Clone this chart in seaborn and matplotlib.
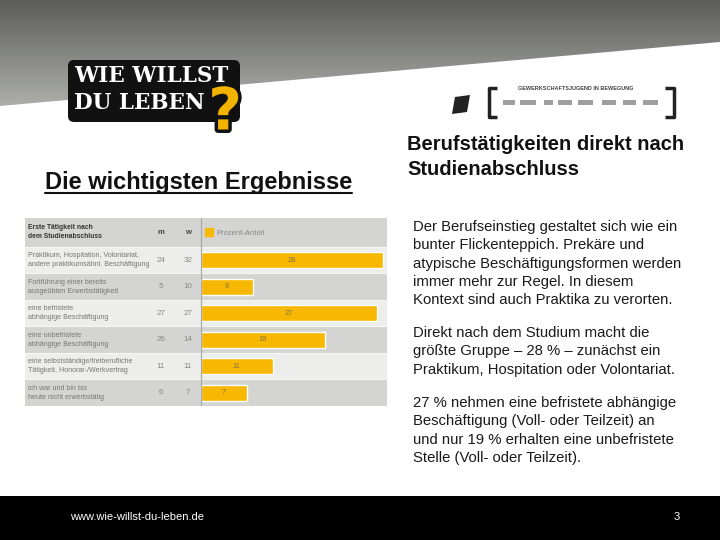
import numpy as np
import matplotlib
matplotlib.use("Agg")
import matplotlib.pyplot as plt
import seaborn as sns
from matplotlib.patches import Rectangle, Polygon, FancyBboxPatch, Patch
import matplotlib.patheffects as pe

# data
categories = [
    "Praktikum, Hospitation, Volontariat,\nandere praktikumsähnl. Beschäftigung",
    "Fortführung einer bereits\nausgeübten Erwerbstätigkeit",
    "eine befristete\nabhängige Beschäftigung",
    "eine unbefristete\nabhängige Beschäftigung",
    "eine selbstständige/freiberufliche\nTätigkeit, Honorar-/Werkvertrag",
    "ich war und bin bis\nheute nicht erwerbstätig",
]
men = [24, 5, 27, 26, 11, 6]
women = [32, 10, 27, 14, 11, 7]
percent = [28, 8, 27, 19, 11, 7]

para1 = ["Der Berufseinstieg gestaltet sich wie ein",
         "bunter Flickenteppich. Prekäre und",
         "atypische Beschäftigungsformen werden",
         "immer mehr zur Regel. In diesem",
         "Kontext sind auch Praktika zu verorten."]
para2 = ["Direkt nach dem Studium macht die",
         "größte Gruppe – 28 % – zunächst ein",
         "Praktikum, Hospitation oder Volontariat."]
para3 = ["27 % nehmen eine befristete abhängige",
         "Beschäftigung (Voll- oder Teilzeit) an",
         "und nur 19 % erhalten eine unbefristete",
         "Stelle (Voll- oder Teilzeit)."]

sns.set_style("white")
plt.rcParams['font.family'] = ['Liberation Sans', 'DejaVu Sans']

W, H = 720, 540
fig = plt.figure(figsize=(7.2, 5.4), dpi=100)

def px(x, y):
    return x / W, 1 - y / H

# background layer in pixel coords
bg = fig.add_axes([0, 0, 1, 1])
bg.axis('off')

# grey gradient band with slanted lower edge
top = np.array([0.36, 0.365, 0.35])
bot = np.array([0.68, 0.685, 0.67])
t = np.linspace(0, 1, 200)[:, None, None]
grad = top + (bot - top) * t
im = bg.imshow(grad, extent=[0, W, 106, 0], aspect='auto', zorder=0)
clip = Polygon([(0, 0), (W, 0), (W, 42), (0, 106)], closed=True,
               transform=bg.transData, facecolor='none', edgecolor='none')
bg.add_patch(clip)
im.set_clip_path(clip)
bg.set_xlim(0, W)
bg.set_ylim(H, 0)

# logo "WIE WILLST DU LEBEN?"
bg.add_patch(FancyBboxPatch((70, 62), 168, 58, boxstyle="round,pad=2,rounding_size=6",
                            facecolor='#111111', edgecolor='none', zorder=2))
bg.text(74, 76, "WIE WILLST", color='white', fontsize=15.5, fontweight='heavy',
        family='DejaVu Serif', ha='left', va='center', zorder=3)
bg.text(74, 103, "DU LEBEN", color='white', fontsize=15.5, fontweight='heavy',
        family='DejaVu Serif', ha='left', va='center', zorder=3)
bg.text(225, 113, "?", color='#F2B200', fontsize=42, fontweight='bold',
        family='DejaVu Sans', ha='center', va='center', zorder=4,
        path_effects=[pe.withStroke(linewidth=5, foreground='#111111')])

# partner logos (right top)
bg.add_patch(Polygon([(455, 97), (470, 95), (467, 112), (452, 114)], closed=True,
                     facecolor='#222222', edgecolor='none'))
bg.plot([497, 489, 489, 497], [88, 88, 117, 117], color='#222222', lw=2.5, solid_capstyle='butt')
bg.plot([665, 674, 674, 665], [88, 88, 117, 117], color='#222222', lw=2.5, solid_capstyle='butt')
bg.text(576, 89, "GEWERKSCHAFTSJUGEND IN BEWEGUNG", fontsize=4, color='#444444',
        ha='center', va='center', fontweight='bold')
for x0, w0 in [(503, 12), (520, 16), (544, 9), (558, 14), (578, 15), (602, 14), (623, 13), (643, 15)]:
    bg.add_patch(Rectangle((x0, 100), w0, 5, facecolor='#777777', edgecolor='none', alpha=0.7))

# headings
t1 = fig.text(*px(45, 188.5), "Die wichtigsten Ergebnisse", fontsize=17, fontweight='bold',
              color='#111111', ha='left', va='baseline')
fig.text(*px(407, 150), "Berufstätigkeiten direkt nach", fontsize=14.5, fontweight='bold',
         color='#111111', ha='left', va='baseline')
fig.text(*px(407, 175), "Studienabschluss", fontsize=14.5, fontweight='bold',
         color='#111111', ha='left', va='baseline')

# body text
for lines, y0 in [(para1, 227), (para2, 333), (para3, 403)]:
    for i, line in enumerate(lines):
        fig.text(*px(413, y0 + i * 18.3), line, fontsize=10.7, color='#1a1a1a',
                 ha='left', va='center')

# footer
bg.add_patch(Rectangle((0, 496), W, 44, facecolor='black', edgecolor='none', zorder=1))
bg.text(70, 517, "www.wie-willst-du-leben.de", color='white', fontsize=8, ha='left', va='center', zorder=2)
bg.text(677, 517, "3", color='white', fontsize=8, ha='center', va='center', zorder=2)

# table background
ylim = (5.5, -1.594)
tab = fig.add_axes([25 / W, 1 - 406 / H, 362 / W, 188 / H])
tab.set_xlim(25, 387)
tab.set_ylim(*ylim)
tab.axis('off')
tab.axhspan(-1.594, -0.5, color='#d4d4d2', lw=0)
for i in range(len(categories)):
    tab.axhspan(i - 0.5, i + 0.5, color='#ededeb' if i % 2 == 0 else '#d4d4d2', lw=0)
    tab.axhline(i - 0.5, color='#f6f6f4', lw=0.8)
tab.text(28, -1.05, "Erste Tätigkeit nach\ndem Studienabschluss",
         fontsize=4.9, fontweight='bold', color='#333333', ha='left', va='center', linespacing=1.4)
tab.text(161, -1.05, "m", fontsize=5.5, fontweight='bold', color='#444444', ha='center', va='center')
tab.text(188, -1.05, "w", fontsize=5.5, fontweight='bold', color='#444444', ha='center', va='center')
for i, cat in enumerate(categories):
    tab.text(28, i, cat, fontsize=5.1, color='#777777', ha='left', va='center', linespacing=1.4)
    tab.text(161, i, str(men[i]), fontsize=5.8, color='#888888', ha='center', va='center')
    tab.text(188, i, str(women[i]), fontsize=5.8, color='#888888', ha='center', va='center')

# bar chart
ax = fig.add_axes([197 / W, 1 - 406 / H, 190 / W, 188 / H])
ax.patch.set_alpha(0)
sns.barplot(x=percent, y=list(range(len(percent))), orient='h', color='#F8B700',
            saturation=1, width=0.6, ax=ax)
ax.set_xlim(-4 / 6.5, 186 / 6.5)
ax.set_ylim(*ylim)
ax.axvline(0, color='#a9a9a9', lw=0.9)
for c in ax.containers:
    ax.bar_label(c, labels=[str(v) for v in percent], label_type='center',
                 fontsize=5.5, color='#8a7440')
ax.set_xlabel('')
ax.set_ylabel('')
ax.set_xticks([])
ax.set_yticks([])
sns.despine(ax=ax, left=True, bottom=True)
ax.legend(handles=[Patch(color='#F8B700', label='Prozent-Anteil')], loc='center left',
          bbox_to_anchor=(0.04, 1 - 14.5 / 188), frameon=False, handlelength=1.1,
          handleheight=1.1, handletextpad=0.5, borderaxespad=0, borderpad=0,
          prop={'size': 5.5}, labelcolor='#888888')

# underline for the left heading
fig.canvas.draw()
bb = t1.get_window_extent()
x0, x1 = bb.x0 / 720, bb.x1 / 720
fig.add_artist(plt.Line2D([x0, x1], [1 - 193 / H] * 2, color='#111111', lw=1.5))

fig.savefig("out.png", dpi=100)
